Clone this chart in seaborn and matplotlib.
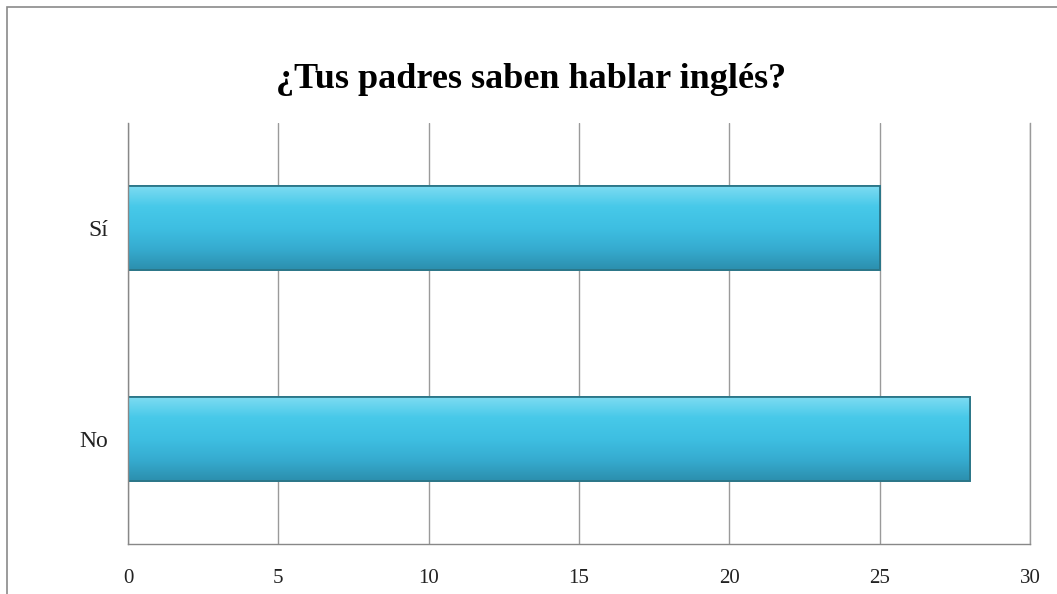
import numpy as np
import pandas as pd
import seaborn as sns
import matplotlib.pyplot as plt
from matplotlib.colors import LinearSegmentedColormap
from matplotlib.patches import Rectangle

respuestas = ['Sí', 'No']
cantidades = [25, 28]
ticks_x = [0, 5, 10, 15, 20, 25, 30]

df = pd.DataFrame({'respuesta': respuestas, 'cantidad': cantidades})

sns.set_style('white')
plt.rcParams['font.family'] = ['Liberation Serif', 'DejaVu Serif']

fig = plt.figure(figsize=(10.57, 5.94), dpi=100)
ax = fig.add_axes([0.1211, 0.0842, 0.8534, 0.7088])

sns.barplot(data=df, y='respuesta', x='cantidad', orient='h', width=0.4,
            color='#3bbde0', edgecolor='#2a7d91', linewidth=1.2, ax=ax)

# degradado dentro de cada barra (claro arriba, oscuro abajo)
grad = LinearSegmentedColormap.from_list('barra', ['#7fdcf2', '#47c9e9', '#3ebfe2', '#36acd0', '#2c8fae'])
for p in ax.patches:
    x0, y0 = p.get_x(), p.get_y()
    w, h = p.get_width(), p.get_height()
    img = ax.imshow(np.linspace(0, 1, 100).reshape(-1, 1), cmap=grad, aspect='auto',
                    extent=[x0, x0 + w, y0, y0 + h], origin='lower', zorder=p.get_zorder() + 0.1)
    img.set_clip_path(p)
    ax.add_patch(Rectangle((x0, y0), w, h, fill=False, edgecolor='#2a7587', linewidth=1.3,
                           zorder=p.get_zorder() + 0.2))

ax.set_xlim(0, 30)
ax.set_ylim(1.5, -0.5)
ax.set_xticks(ticks_x)
ax.set_yticks([-0.5, 0.5, 1.5], minor=False)
ax.set_yticks([0, 1], minor=True)
ax.set_yticklabels(['', '', ''])
ax.set_yticklabels(respuestas, minor=True)
ax.tick_params(axis='y', which='minor', length=0, pad=14, labelsize=17, labelcolor='#222222')
ax.tick_params(axis='y', which='major', length=6, width=1, color='#888888', direction='out')
ax.tick_params(axis='x', length=10, width=1, color='#888888', direction='inout', pad=13,
               labelsize=15, labelcolor='#222222')
ax.grid(axis='x', color='#9a9a9a', linewidth=1)
ax.set_axisbelow(True)
ax.spines['top'].set_visible(False)
ax.spines['right'].set_color('#9a9a9a')
ax.spines['right'].set_linewidth(1)
for s in ['left', 'bottom']:
    ax.spines[s].set_color('#888888')
    ax.spines[s].set_linewidth(1)
ax.set_xlabel('')
ax.set_ylabel('')

fig.text(0.502, 0.866, '¿Tus padres saben hablar inglés?', ha='center', va='center',
         fontsize=26, fontweight='bold', color='black')

# marco del grafico
fig.patches.append(Rectangle((7 / 1057, -0.1), 1.2, 1.1 - 7 / 594, transform=fig.transFigure,
                             fill=False, edgecolor='#8a8a8a', linewidth=1.2))

fig.savefig('out.png', dpi=100)
